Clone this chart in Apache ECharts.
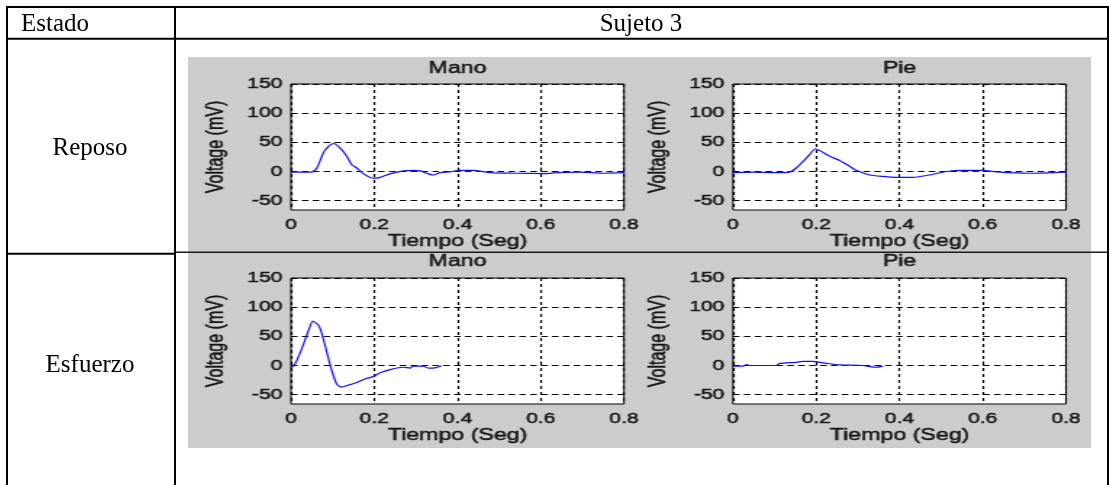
<!DOCTYPE html>
<html>
<head>
<meta charset="utf-8">
<script src="https://cdn.jsdelivr.net/npm/echarts@6/dist/echarts.min.js"></script>
<style>
  html, body { margin: 0; padding: 0; background: #fff; width: 1109px; height: 485px; overflow: hidden; }
  #fig { position: absolute; left: 188px; top: 57px; height: 391px; transform-origin: 0 0; z-index: 1; }
  #table { position: absolute; left: 0; top: 0; width: 1109px; height: 485px; z-index: 2; }
</style>
</head>
<body>
<div id="fig"></div>
<div id="table"></div>
<script>
// Table text
const headerLabels = ['Estado', 'Sujeto 3'];
const stateLabels = ['Reposo', 'Esfuerzo'];
const panelTitles = ['Mano', 'Pie', 'Mano', 'Pie'];
const xAxisName = 'Tiempo (Seg)';
const yAxisName = 'Voltage (mV)';

// Axis ticks
const timeTicks = [0, 0.2, 0.4, 0.6, 0.8];
const voltTicks = [-50, 0, 50, 100, 150];
const voltMin = -66;
const voltMax = 150;

// Reposo, Mano
const manoReposoT = [0, 0.02, 0.05, 0.062, 0.078, 0.09, 0.102, 0.118, 0.134, 0.146, 0.158, 0.174, 0.198, 0.214, 0.238, 0.27, 0.294, 0.31, 0.33, 0.342, 0.358, 0.382, 0.406, 0.438, 0.478, 0.534, 0.614, 0.638, 0.694, 0.75, 0.8];
const manoReposoV = [-1, -1, -1, 6, 32, 43, 48, 40, 26, 11.5, 6, -4, -11.5, -10, -4, 1, 2, 1, -4, -6, -2, -0.5, 2, 2, -2, -3, -3.5, -2, -1, -3, -2];

// Reposo, Pie
const pieReposoT = [0, 0.05, 0.1, 0.136, 0.152, 0.168, 0.184, 0.198, 0.212, 0.232, 0.256, 0.28, 0.296, 0.328, 0.36, 0.392, 0.432, 0.472, 0.512, 0.552, 0.6, 0.632, 0.712, 0.8];
const pieReposoV = [-2, -1, -2, -1, 6, 17, 29, 39, 34.5, 26, 19, 9, 2, -6, -8.5, -10, -10, -6, 0, 2, 2, -0.5, -3, -1];

// Esfuerzo, Mano
const manoEsfuerzoT = [0, 0.01, 0.026, 0.042, 0.052, 0.066, 0.074, 0.086, 0.098, 0.11, 0.12, 0.134, 0.158, 0.182, 0.198, 0.214, 0.238, 0.27, 0.286, 0.294, 0.318, 0.33, 0.346, 0.362];
const manoEsfuerzoV = [-4.5, 3, 29, 60, 76, 69, 55, 23, -9, -32, -37, -34.5, -29, -22, -19, -12.5, -7, -3, -4.5, -1, -1, -4.5, -4, -0.5];

// Esfuerzo, Pie
const pieEsfuerzoT = [0, 0.025, 0.032, 0.04, 0.104, 0.112, 0.152, 0.168, 0.192, 0.216, 0.232, 0.256, 0.312, 0.328, 0.344, 0.36];
const pieEsfuerzoV = [-1, -1, 1.5, 0, 0, 3.5, 5.5, 7, 7, 4.5, 3, 1, 0, -2, -3, -1];

const panelSeries = [
  [manoReposoT, manoReposoV],
  [pieReposoT, pieReposoV],
  [manoEsfuerzoT, manoEsfuerzoV],
  [pieEsfuerzoT, pieEsfuerzoV]
];

// ---- Figure (grey MATLAB-style panel), drawn narrow and stretched horizontally ----
const STRETCH = 1.45;
const FIG_W = 903, FIG_H = 391;
const figDom = document.getElementById('fig');
figDom.style.width = (FIG_W / STRETCH) + 'px';
figDom.style.transform = 'scaleX(' + STRETCH + ')';

const colLeft = [103, 545];     // plot box left edges, in stretched pixels
const rowTop = [27, 221];       // plot box top edges
const boxW = 333, boxH = 126;
const titleY = [11.5, 205];

const figFont = '"Liberation Sans", Arial, sans-serif';
const textColor = '#161616';
const tickSize = 14.5, nameSize = 16;
const heavy = { textBorderColor: textColor, textBorderWidth: 0.45 };

const grids = [], xAxes = [], yAxes = [], series = [], texts = [];
for (let i = 0; i < 4; i++) {
  const r = Math.floor(i / 2), c = i % 2;
  const left = colLeft[c] / STRETCH;
  const width = boxW / STRETCH;
  grids.push({
    left: left, top: rowTop[r], width: width, height: boxH,
    show: true, backgroundColor: '#fff', borderColor: '#000', borderWidth: 1,
    containLabel: false, outerBoundsMode: 'none'
  });
  xAxes.push({
    gridIndex: i, type: 'value', min: 0, max: 0.8, interval: 0.2,
    name: xAxisName, nameLocation: 'middle', nameGap: 23,
    nameTextStyle: Object.assign({ fontFamily: figFont, fontSize: nameSize, color: textColor }, heavy),
    axisLine: { show: false },
    axisTick: { show: true, inside: true, length: 4, lineStyle: { color: '#000', width: 1 } },
    axisLabel: Object.assign({ margin: 7, fontFamily: figFont, fontSize: tickSize, color: textColor,
                 customValues: timeTicks }, heavy),
    splitLine: { show: true, lineStyle: { color: '#000', width: 1.2, type: [3, 3] } }
  });
  yAxes.push({
    gridIndex: i, type: 'value', min: voltMin, max: voltMax,
    name: yAxisName, nameLocation: 'middle', nameGap: 43,
    nameTextStyle: Object.assign({ fontFamily: figFont, fontSize: nameSize, color: textColor }, heavy),
    axisLine: { show: false },
    axisTick: { show: true, inside: true, length: 4, lineStyle: { color: '#000', width: 1 },
                customValues: voltTicks },
    axisLabel: Object.assign({ margin: 6, fontFamily: figFont, fontSize: tickSize, color: textColor,
                 customValues: voltTicks }, heavy),
    splitLine: { show: true, lineStyle: { color: '#000', width: 1, type: [4.5, 3] } }
  });
  const [ts, vs] = panelSeries[i];
  series.push({
    type: 'line', xAxisIndex: i, yAxisIndex: i,
    data: ts.map((t, k) => [t, vs[k]]),
    showSymbol: false, smooth: 0.2, animation: false,
    lineStyle: { color: '#1010ff', width: 1.2 }
  });
  texts.push({
    type: 'text', x: left + width / 2, y: titleY[r],
    style: { text: panelTitles[i], font: nameSize + 'px ' + figFont, fill: textColor,
             stroke: textColor, lineWidth: 0.45,
             align: 'center', verticalAlign: 'middle' }
  });
}

const fig = echarts.init(figDom, null, { renderer: 'canvas' });
fig.setOption({
  animation: false,
  backgroundColor: '#cccccc',
  grid: grids, xAxis: xAxes, yAxis: yAxes, series: series,
  graphic: texts
});

// ---- Table frame and labels ----
const table = echarts.init(document.getElementById('table'), null, { renderer: 'canvas' });
const serif = '"Liberation Serif", "Times New Roman", serif';
const black = { stroke: '#000', lineWidth: 2 };
function hline(x1, x2, y, style) { return { type: 'line', shape: { x1: x1, y1: y, x2: x2, y2: y }, style: style, z: 10 }; }
function vline(x, y1, y2, style) { return { type: 'line', shape: { x1: x, y1: y1, x2: x, y2: y2 }, style: style, z: 10 }; }
function label(text, x, y, align) {
  return { type: 'text', x: x, y: y, z: 11,
    style: { text: text, font: '25px ' + serif, fill: '#000', align: align, verticalAlign: 'middle' } };
}
table.setOption({
  animation: false,
  backgroundColor: 'transparent',
  graphic: [
    hline(6, 1109, 7, black),
    hline(6, 1109, 38.7, black),
    hline(6, 175, 253.7, black),
    hline(175, 1107, 252.2, { stroke: '#1c1c1c', lineWidth: 1.6 }),
    vline(7, 6, 485, black),
    vline(175, 6, 485, black),
    vline(1108, 6, 485, black),
    label(headerLabels[0], 21, 24, 'left'),
    label(headerLabels[1], 641, 24, 'center'),
    label(stateLabels[0], 90, 148, 'center'),
    label(stateLabels[1], 90, 365, 'center')
  ]
});
</script>
</body>
</html>
